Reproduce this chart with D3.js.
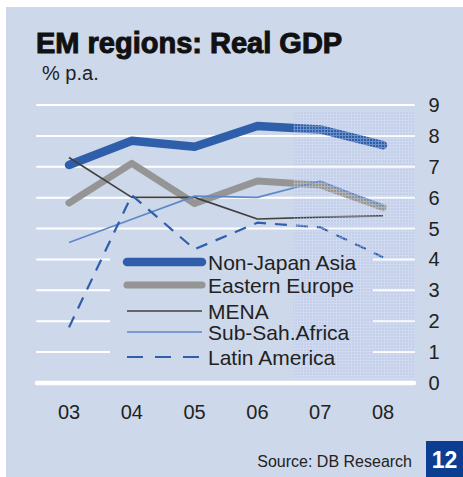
<!DOCTYPE html>
<html>
<head>
<meta charset="utf-8">
<script src="https://cdn.jsdelivr.net/npm/d3@7"></script>
<style>
  html, body { margin: 0; padding: 0; background: #fff; }
  svg { display: block; font-family: "Liberation Sans", Arial, sans-serif; }
</style>
</head>
<body>
<svg id="chart" width="463" height="477"></svg>
<script>
// data
const years = ['03', '04', '05', '06', '07', '08'];
const yTicks = [0, 1, 2, 3, 4, 5, 6, 7, 8, 9];
const nonJapanAsia = [7.06, 7.84, 7.65, 8.32, 8.21, 7.70];
const easternEurope = [5.83, 7.11, 5.81, 6.54, 6.41, 5.68];
const mena = [7.30, 6.01, 6.01, 5.31, 5.37, 5.41];
const subSahAfrica = [4.55, 5.30, 6.05, 6.01, 6.54, 5.73];
const latinAmerica = [1.80, 6.08, 4.33, 5.19, 5.04, 4.07];
const forecastFrom = '07';

const series = [
    { name: 'Non-Japan Asia', values: nonJapanAsia, color: '#2f5eab', width: 8.5, dash: null },
    { name: 'Eastern Europe', values: easternEurope, color: '#959595', width: 7, dash: null },
    { name: 'MENA', values: mena, color: '#404040', width: 1.7, dash: null },
    { name: 'Sub-Sah.Africa', values: subSahAfrica, color: '#5f88c9', width: 1.7, dash: null },
    { name: 'Latin America', values: latinAmerica, color: '#2f5eab', width: 2.2, dash: '12,9' },
];

const svg = d3.select('#chart');
const bg = '#cdd8ea';

const translate = (x, y) => `translate(${x}, ${y})`;

// panel background
svg.append('rect')
    .attr('x', 6).attr('y', 7)
    .attr('width', 457).attr('height', 470)
    .attr('fill', bg);

// scales
const x = d3.scalePoint().domain(years).range([69, 383]);
const y = d3.scaleLinear().domain([0, 9]).range([383, 105]);
const gridLeft = 37, gridRight = 414;
const shadeX = x(forecastFrom) - 27;

// title
svg.append('text')
    .attr('x', 36).attr('y', 53)
    .attr('font-size', 29).attr('font-weight', 'bold')
    .attr('fill', '#111').attr('stroke', '#111').attr('stroke-width', 1)
    .text('EM regions: Real GDP');
svg.append('text')
    .attr('x', 42).attr('y', 80)
    .attr('font-size', 20).attr('fill', '#222')
    .text('% p.a.');

// forecast shading underlay
svg.append('rect')
    .attr('x', shadeX).attr('y', 112)
    .attr('width', gridRight - shadeX).attr('height', 265)
    .attr('fill', '#c4d0ea');

// gridlines
svg.append('g')
    .selectAll('line')
    .data(yTicks)
    .enter()
    .append('line')
    .attr('x1', gridLeft).attr('x2', gridRight)
    .attr('y1', d => y(d)).attr('y2', d => y(d))
    .attr('stroke', '#fff')
    .attr('stroke-width', d => d === 0 ? 4.5 : 2)
    .attr('stroke-linecap', 'round');

// legend backing hides the lower gridlines
svg.append('rect')
    .attr('x', 110).attr('y', y(4.35))
    .attr('width', shadeX - 110).attr('height', y(0.6) - y(4.35))
    .attr('fill', bg);
svg.append('rect')
    .attr('x', shadeX).attr('y', y(4.35))
    .attr('width', 373 - shadeX).attr('height', y(0.6) - y(4.35))
    .attr('fill', '#c4d0ea');

// forecast texture pattern
const defs = svg.append('defs');
const pat = defs.append('pattern')
    .attr('id', 'hatch')
    .attr('patternUnits', 'userSpaceOnUse')
    .attr('width', 3).attr('height', 3);
pat.append('rect').attr('width', 3).attr('height', 1).attr('fill', '#e4ebf7');
pat.append('rect').attr('y', 1).attr('width', 1).attr('height', 2).attr('fill', '#e4ebf7');

// y axis labels
svg.append('g')
    .attr('font-size', 20).attr('fill', '#222').attr('text-anchor', 'middle')
    .selectAll('text')
    .data(yTicks)
    .enter()
    .append('text')
    .attr('x', 434)
    .attr('y', d => y(d) + 7)
    .text(d => d);

// x axis labels
svg.append('g')
    .attr('font-size', 20).attr('fill', '#222').attr('text-anchor', 'middle')
    .selectAll('text')
    .data(years)
    .enter()
    .append('text')
    .attr('x', d => x(d))
    .attr('y', 419)
    .text(d => d);

// lines
const line = d3.line()
    .x((d, i) => x(years[i]))
    .y(d => y(d));

svg.append('g')
    .selectAll('path')
    .data(series)
    .enter()
    .append('path')
    .attr('d', d => line(d.values))
    .attr('fill', 'none')
    .attr('stroke', d => d.color)
    .attr('stroke-width', d => d.width)
    .attr('stroke-dasharray', d => d.dash)
    .attr('stroke-linecap', d => d.width > 4 ? 'round' : 'butt')
    .attr('stroke-linejoin', 'round');

// forecast texture on top
svg.append('rect')
    .attr('x', shadeX).attr('y', 112)
    .attr('width', gridRight - shadeX).attr('height', 265)
    .attr('fill', 'url(#hatch)')
    .attr('opacity', 0.35);

// legend
const legend = svg.append('g')
    .attr('transform', translate(125, 262));
const rowY = [0, 23, 49, 70, 95];
const rows = legend.selectAll('g')
    .data(series)
    .enter()
    .append('g')
    .attr('transform', (d, i) => translate(0, rowY[i]));
rows.append('line')
    .attr('x1', 2).attr('x2', 77)
    .attr('y1', 0).attr('y2', 0)
    .attr('stroke', d => d.color)
    .attr('stroke-width', d => d.width)
    .attr('stroke-dasharray', d => d.dash ? '16,12' : null)
    .attr('stroke-linecap', d => d.width > 4 ? 'round' : 'butt');
rows.append('text')
    .attr('x', 83).attr('y', 7.5)
    .attr('font-size', 21).attr('fill', '#222')
    .text(d => d.name);

// footer
svg.append('text')
    .attr('x', 412).attr('y', 467)
    .attr('font-size', 16).attr('fill', '#222').attr('text-anchor', 'end')
    .text('Source: DB Research');
svg.append('rect')
    .attr('x', 426).attr('y', 441)
    .attr('width', 37).attr('height', 36)
    .attr('fill', '#0b3d91');
svg.append('text')
    .attr('x', 444.5).attr('y', 468)
    .attr('font-size', 23).attr('font-weight', 'bold').attr('fill', '#fff')
    .attr('text-anchor', 'middle')
    .text('12');
</script>
</body>
</html>
